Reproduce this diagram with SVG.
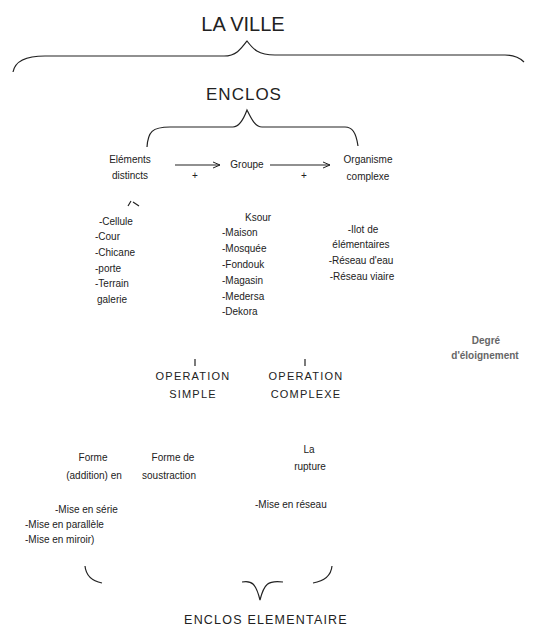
<svg xmlns="http://www.w3.org/2000/svg" width="537" height="627" viewBox="0 0 537 627">
<style>
.t{font-family:"Liberation Sans",Arial,sans-serif;fill:#222;font-size:10px}
.cap{font-family:"Liberation Sans",Arial,sans-serif;fill:#222}
.c{stroke:#222;stroke-width:1.2;fill:none}
.deg{font-family:"Liberation Sans",Arial,sans-serif;fill:#666;font-weight:bold;font-size:10px}
</style>
<defs>
<marker id="ah" markerWidth="8" markerHeight="8" refX="7" refY="4" orient="auto" markerUnits="userSpaceOnUse">
<path d="M0,1 L7,4 L0,7" fill="none" stroke="#222" stroke-width="1"/>
</marker>
</defs>
<rect width="537" height="627" fill="#fff"/>
<g id="connectors">
<path class="c" d="M13,72 C15,61 25,56 45,56 L224,56 C236,56 241,49 247,41 C253,49 258,55 275,55 L505,55 C515,55 520,58 524,62"/>
<path class="c" d="M147,147 C148,132 152,127 170,127 L233,127 C240,127 244,118 247,110 C251,118 255,127 262,127 L345,127 C352,127 356,132 358,146"/>
<line class="c" x1="175" y1="165" x2="220" y2="165" marker-end="url(#ah)"/>
<line class="c" x1="270" y1="165" x2="330" y2="165" marker-end="url(#ah)"/>
<path class="c" d="M128,206 L131,201 M133,202 L139,206"/>
<line class="c" x1="195" y1="359" x2="195" y2="366"/>
<line class="c" x1="305" y1="359" x2="305" y2="366"/>
<path class="c" d="M85,566 C86,576 92,581 102,583"/>
<path class="c" d="M242,582 C252,580 256,584 260,600 C264,584 268,580 283,582"/>
<path class="c" d="M313,583 C325,581 331,576 332,566"/>
</g>
<g id="la-ville"><text class="cap" x="243" y="31" font-size="20" text-anchor="middle">LA VILLE</text></g>
<g id="enclos"><text class="cap" x="244" y="100" font-size="17" text-anchor="middle" letter-spacing="1">ENCLOS</text></g>
<g id="elements-distincts">
<text class="t" x="130" y="163" text-anchor="middle">Eléments</text>
<text class="t" x="130" y="179" text-anchor="middle">distincts</text>
<text class="t" x="195" y="179" text-anchor="middle">+</text>
</g>
<g id="groupe"><text class="t" x="247" y="168" text-anchor="middle">Groupe</text>
<text class="t" x="304" y="179" text-anchor="middle">+</text></g>
<g id="organisme-complexe">
<text class="t" x="368" y="163" text-anchor="middle">Organisme</text>
<text class="t" x="368" y="180" text-anchor="middle">complexe</text>
</g>
<g id="liste-elements">
<text class="t" x="99" y="225">-Cellule</text>
<text class="t" x="95" y="240">-Cour</text>
<text class="t" x="95" y="256">-Chicane</text>
<text class="t" x="95" y="272">-porte</text>
<text class="t" x="95" y="287">-Terrain</text>
<text class="t" x="97" y="303">galerie</text>
</g>
<g id="liste-groupe">
<text class="t" x="245" y="221">Ksour</text>
<text class="t" x="222" y="236">-Maison</text>
<text class="t" x="222" y="252">-Mosquée</text>
<text class="t" x="222" y="268">-Fondouk</text>
<text class="t" x="222" y="284">-Magasin</text>
<text class="t" x="222" y="300">-Medersa</text>
<text class="t" x="222" y="315">-Dekora</text>
</g>
<g id="liste-organisme">
<text class="t" x="363" y="233" text-anchor="middle">-Ilot de</text>
<text class="t" x="361" y="248" text-anchor="middle">élémentaires</text>
<text class="t" x="361" y="264" text-anchor="middle">-Réseau d'eau</text>
<text class="t" x="362" y="280" text-anchor="middle">-Réseau viaire</text>
</g>
<g id="degre">
<text class="deg" x="486" y="344" text-anchor="middle">Degré</text>
<text class="deg" x="485" y="359" text-anchor="middle">d'éloignement</text>
</g>
<g id="operation-simple">
<text class="cap" x="193" y="380" font-size="11" text-anchor="middle" letter-spacing="1.2">OPERATION</text>
<text class="cap" x="193" y="398" font-size="11" text-anchor="middle" letter-spacing="1.2">SIMPLE</text>
</g>
<g id="operation-complexe">
<text class="cap" x="306" y="380" font-size="11" text-anchor="middle" letter-spacing="1.2">OPERATION</text>
<text class="cap" x="306" y="398" font-size="11" text-anchor="middle" letter-spacing="1.2">COMPLEXE</text>
</g>
<g id="forme-addition">
<text class="t" x="93" y="461" text-anchor="middle">Forme</text>
<text class="t" x="94" y="479" text-anchor="middle">(addition) en</text>
</g>
<g id="forme-soustraction">
<text class="t" x="173" y="461" text-anchor="middle">Forme de</text>
<text class="t" x="169" y="479" text-anchor="middle">soustraction</text>
</g>
<g id="liste-addition">
<text class="t" x="55" y="513">-Mise en série</text>
<text class="t" x="25" y="528">-Mise en parallèle</text>
<text class="t" x="25" y="543">-Mise en miroir)</text>
</g>
<g id="le-maillage">
<text class="t" x="309" y="453" text-anchor="middle">La</text>
<text class="t" x="310" y="470" text-anchor="middle">rupture</text>
</g>
<g id="liste-complexe"><text class="t" x="255" y="508">-Mise en réseau</text></g>
<g id="enclos-elementaire"><text class="cap" x="266" y="624" font-size="12.5" text-anchor="middle" letter-spacing="1.2">ENCLOS ELEMENTAIRE</text></g>
</svg>
